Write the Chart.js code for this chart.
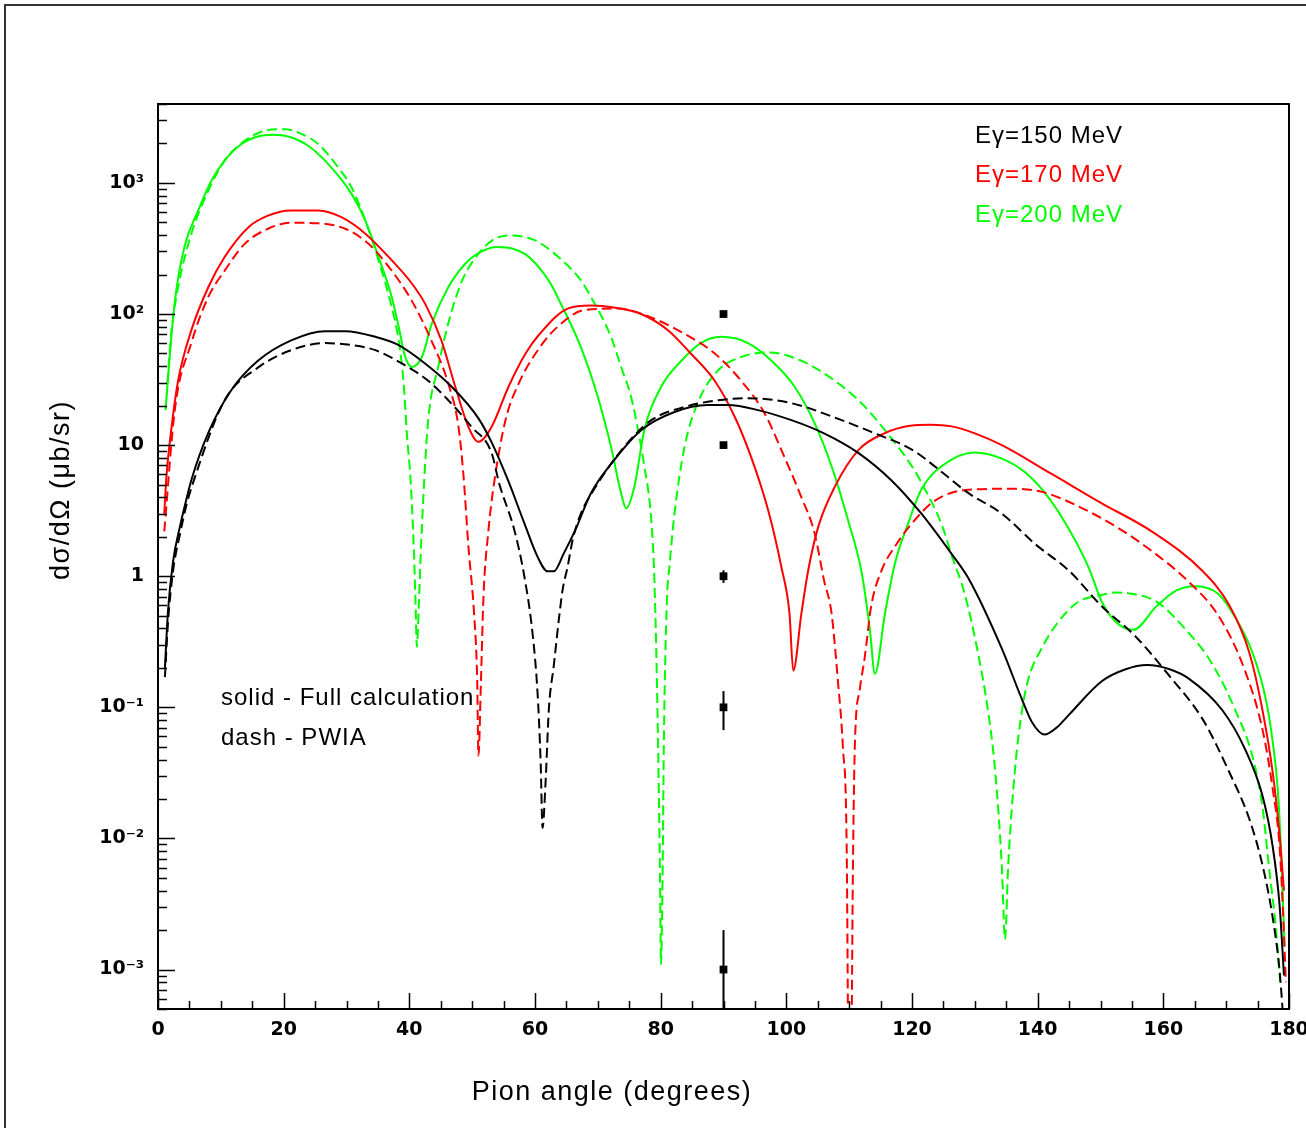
<!DOCTYPE html>
<html>
<head>
<meta charset="utf-8">
<script src="https://cdn.jsdelivr.net/npm/chart.js@4.4.1/dist/chart.umd.min.js"></script>
<style>
  html, body { margin: 0; padding: 0; background: #fff; overflow: hidden; }
  #wrap { position: relative; width: 1306px; height: 1128px; }
  #frame { position: absolute; left: 4px; top: 4px; width: 1400px; height: 1200px;
           border-left: 2px solid #333; border-top: 2px solid #333; }
  canvas { position: absolute; left: 0; top: 0; }
</style>
</head>
<body>
<div id="wrap">
  <div id="frame"></div>
  <canvas id="myChart" width="1306" height="1128"></canvas>
</div>
<script>
// E = 150 MeV, full calculation (black solid)
const black150FullAngle = [1.1, 1.6, 2.4, 3.5, 4.6, 5.3, 8.0, 11.6, 15.9, 21.2, 26.6, 29.8, 34.6, 38.3, 42.5, 46.7, 51.0, 53.1, 55.7, 58.3, 60.4, 62.0, 63.0, 64.6, 66.5, 68.9, 72.6, 76.9, 82.1, 87.5, 90.7, 95.5, 100.8, 106, 111.5, 116.7, 121.5, 126.3, 129, 134.3, 137.5, 139.1, 141.1, 143, 145, 150.2, 154, 157.4, 161, 164.1, 169.4, 173, 175.8, 177.4, 178.5, 179.2];
const black150FullValue = [0.2, 0.55, 1.3, 2.4, 4.0, 5.4, 12.4, 26, 44, 63, 74, 74, 67, 58, 42, 28, 16, 10.5, 5.4, 2.54, 1.41, 1.09, 1.09, 1.5, 2.3, 4.3, 7.7, 13, 17.8, 20.2, 20.2, 18.5, 15.5, 12.3, 8.7, 5.4, 3.0, 1.48, 0.96, 0.28, 0.115, 0.077, 0.062, 0.07, 0.088, 0.158, 0.195, 0.21, 0.195, 0.165, 0.095, 0.048, 0.021, 0.0087, 0.0031, 0.0009];

// E = 150 MeV, PWIA (black dashed)
const black150PwiaAngle = [1.1, 1.6, 2.4, 3.5, 4.6, 5.6, 10.6, 15.9, 21.2, 26.6, 30.8, 34.6, 38.8, 43.0, 46.2, 49.9, 53.1, 54.3, 56.7, 58.3, 59.6, 60.4, 60.9, 61.2, 61.7, 62.2, 63.0, 63.8, 64.4, 65.2, 66.0, 67.3, 69.4, 74.2, 78.5, 83.7, 89.2, 93.9, 100.8, 108.8, 115.6, 118.3, 121, 123.6, 129, 134.3, 139.6, 145, 150.2, 155.5, 160.9, 166.2, 170.5, 173.7, 175.8, 177.4, 178.5, 179.3];
const black150PwiaValue = [0.17, 0.45, 1.1, 2.1, 3.6, 5.2, 22, 39, 53, 60, 58, 53, 42, 31, 22, 13.8, 8.7, 5.1, 2.26, 1.0, 0.37, 0.13, 0.038, 0.012, 0.028, 0.096, 0.21, 0.47, 0.79, 1.19, 1.9, 3.0, 4.6, 9.7, 15.5, 19.5, 22, 22.8, 20.9, 15.5, 11.5, 10.2, 8.6, 6.9, 4.3, 3.0, 1.76, 1.1, 0.59, 0.35, 0.175, 0.082, 0.032, 0.014, 0.0062, 0.0025, 0.00098, 0.0003];

// E = 170 MeV, full calculation (red solid)
const red170FullAngle = [1.0, 1.3, 2.1, 3.2, 5.3, 8.0, 10.6, 14.4, 17.5, 21.2, 25.5, 29.2, 33.0, 37.2, 40.4, 42.5, 45.1, 47.3, 49.4, 51.0, 53.1, 55.8, 58.5, 60.8, 65.2, 68.9, 72.6, 76.9, 81.2, 84.8, 88.6, 91.8, 94.4, 97.1, 99.2, 100.5, 101.1, 102.4, 103.5, 105.1, 107.7, 111.5, 115.6, 119.4, 123, 126.3, 130, 134.3, 142.3, 150.2, 158.2, 166.2, 170.5, 173.7, 175.8, 177.4, 178.5, 179.2];
const red170FullValue = [3.0, 5.4, 13, 31, 75, 160, 272, 460, 563, 617, 617, 548, 410, 257, 171, 120, 63, 28, 13.8, 10.6, 13.8, 28, 50, 71, 110, 116, 112, 100, 75, 50, 31, 16.4, 8.1, 3.2, 1.18, 0.52, 0.19, 0.52, 1.12, 2.4, 4.8, 9.2, 12.3, 14.0, 14.3, 13.9, 12.3, 10, 6.0, 3.6, 2.19, 1.1, 0.6, 0.26, 0.094, 0.032, 0.0106, 0.004];

// E = 170 MeV, PWIA (red dashed)
const red170PwiaAngle = [1.0, 2.7, 5.3, 8.0, 10.6, 13.8, 17.5, 21.2, 25.5, 29.8, 33.5, 37.2, 40.4, 43.5, 46.2, 47.8, 48.6, 49.4, 50.3, 50.8, 51.0, 51.4, 51.8, 52.6, 53.4, 55.3, 57.4, 60.8, 63.6, 67.8, 73.2, 78.5, 83.7, 88.6, 92.8, 96.5, 99.7, 102.4, 104.5, 106, 107.2, 108.2, 109, 109.6, 110.1, 110.6, 110.9, 111.7, 112.5, 113.5, 115.2, 117.3, 119.9, 123.6, 129, 135.9, 140.7, 146, 152.9, 158.2, 163.6, 169, 173, 175.8, 177.4, 178.5, 179.0, 179.5];
const red170PwiaValue = [2.2, 19, 60, 135, 214, 343, 447, 497, 492, 447, 343, 214, 126, 63, 29.5, 14, 6, 1.69, 0.52, 0.16, 0.043, 0.16, 0.7, 2.26, 4.8, 15.5, 29.5, 56, 80, 107, 110, 94, 71, 50, 31, 17.6, 8.1, 4.0, 2.13, 0.93, 0.52, 0.16, 0.05, 0.0088, 0.00001, 0.006, 0.05, 0.138, 0.245, 0.59, 1.12, 1.69, 2.5, 3.76, 4.57, 4.65, 4.4, 3.5, 2.32, 1.55, 0.95, 0.48, 0.19, 0.067, 0.024, 0.0087, 0.0031, 0.0008];

// E = 200 MeV, full calculation (green solid)
const green200FullAngle = [1.2, 1.9, 2.7, 4.2, 6.4, 8.5, 10.6, 13.3, 15.9, 18.3, 20.7, 23.9, 27.6, 30.8, 33.0, 35.1, 37.2, 38.3, 39.3, 40.4, 42.0, 43.6, 46.2, 48.9, 51.5, 54, 56.5, 58.5, 60.7, 62.5, 64.1, 67.3, 70.0, 72.1, 73.7, 74.5, 75.8, 77.4, 80.1, 83.3, 86.4, 89.6, 93.9, 98.1, 101.3, 104.5, 107.2, 109.8, 112, 113.3, 114.1, 115.7, 117.3, 119.4, 121.5, 124.7, 130, 134.3, 138, 141.7, 144.9, 148.1, 150.2, 152.4, 155.2, 158.9, 162.1, 165.1, 168.8, 171.5, 174.2, 176.3, 177.4, 178.2, 178.7, 179.0, 179.3];
const green200FullValue = [18.5, 50, 127, 324, 617, 1040, 1480, 1980, 2260, 2330, 2260, 1920, 1310, 825, 516, 272, 135, 80, 48, 39.5, 47, 85, 160, 242, 300, 325, 315, 285, 225, 170, 120, 56, 23.3, 9.7, 4.3, 3.3, 4.8, 13, 28, 44, 60, 67, 60, 42, 28, 14.7, 6.9, 2.7, 1.06, 0.39, 0.18, 0.52, 1.26, 2.54, 4.6, 6.9, 8.8, 7.9, 6.2, 4.0, 2.32, 1.17, 0.64, 0.45, 0.39, 0.59, 0.78, 0.84, 0.73, 0.48, 0.26, 0.116, 0.055, 0.024, 0.0087, 0.0036, 0.0015];

// E = 200 MeV, PWIA (green dashed)
const green200PwiaAngle = [1.5, 2.1, 3.2, 5.3, 8.0, 10.6, 13.8, 17.0, 20.2, 22.9, 25.5, 28.7, 30.8, 33.0, 35.1, 37.2, 38.3, 39.1, 39.6, 40.2, 40.7, 41.0, 41.2, 41.5, 41.8, 42.2, 43.0, 44.6, 46.2, 48.4, 51.0, 53.6, 56.3, 59.0, 60.6, 64.0, 67.3, 68.9, 72.1, 73.7, 75.3, 76.3, 77.4, 78.5, 79.0, 79.5, 79.9, 80.05, 80.3, 80.5, 81.0, 81.4, 82.2, 83.8, 85.9, 89.1, 92.8, 97.1, 102.4, 107.7, 112, 115.7, 118.3, 120.5, 122.5, 124.7, 126.3, 128.4, 130.5, 132.1, 133.2, 134.3, 134.8, 135.3, 136.4, 137.5, 138.5, 140.6, 143.3, 146.5, 150.2, 152.3, 154.5, 158.9, 163.6, 167.8, 171.5, 174.2, 175.8, 176.8, 177.9, 178.6];
const green200PwiaValue = [30, 71, 160, 408, 870, 1480, 2100, 2500, 2570, 2360, 1980, 1310, 926, 516, 257, 113, 63, 29.5, 12.3, 5.4, 1.69, 0.59, 0.29, 0.59, 1.42, 3.8, 15.5, 39.5, 85, 180, 288, 375, 398, 380, 353, 265, 181, 135, 67, 39.5, 23.3, 13.8, 6.9, 2.7, 0.94, 0.09, 0.0049, 0.0011, 0.0049, 0.051, 0.66, 1.19, 3.0, 9.7, 21, 37, 47, 51, 44, 31, 20.8, 13, 9.0, 6.3, 4.2, 2.5, 1.45, 0.73, 0.26, 0.094, 0.034, 0.0061, 0.0017, 0.0061, 0.034, 0.094, 0.163, 0.28, 0.45, 0.64, 0.72, 0.75, 0.74, 0.64, 0.39, 0.214, 0.094, 0.042, 0.017, 0.0061, 0.0021, 0.0008];

// points with error bars at 90 degrees
const pointAngle = [90, 90, 90, 90, 90];
const pointValue = [100, 10, 1, 0.1, 0.001];
const pointError = [1, 0.3, 0.11, 0.033, 0.001];

const xTicks = [0, 20, 40, 60, 80, 100, 120, 140, 160, 180];
const yTicks = [1e-3, 1e-2, 1e-1, 1, 10, 100, 1000];
const yTickLabels = ['10⁻³', '10⁻²', '10⁻¹', '1', '10', '10²', '10³'];

const energyLabels = ['Eγ=150 MeV', 'Eγ=170 MeV', 'Eγ=200 MeV'];
const energyColors = ['#000000', '#ff0000', '#00ff00'];

function curve(angles, values, color, dashed) {
  return {
    data: angles.map((a, i) => ({ x: a, y: values[i] })),
    borderColor: color,
    borderWidth: 2,
    borderDash: dashed ? [10, 5] : [],
    pointRadius: 0,
    fill: false,
    cubicInterpolationMode: 'monotone'
  };
}

const datasets = [
  curve(black150FullAngle, black150FullValue, energyColors[0], false),
  curve(black150PwiaAngle, black150PwiaValue, energyColors[0], true),
  curve(red170FullAngle, red170FullValue, energyColors[1], false),
  curve(red170PwiaAngle, red170PwiaValue, energyColors[1], true),
  curve(green200FullAngle, green200FullValue, energyColors[2], false),
  curve(green200PwiaAngle, green200PwiaValue, energyColors[2], true),
  {
    type: 'scatter',
    data: pointAngle.map((a, i) => ({ x: a, y: pointValue[i] })),
    showLine: false,
    pointStyle: 'rect',
    pointRadius: 5.5,
    backgroundColor: '#000',
    borderColor: '#000',
    borderWidth: 0
  }
];

const textFont = '"Liberation Sans", Arial, sans-serif';

// inward ticks, frame, error bars and the text labels
const decor = {
  id: 'decor',
  afterDatasetsDraw(chart) {
    const { ctx, chartArea: area, scales: { x, y } } = chart;
    ctx.save();
    ctx.strokeStyle = '#000';
    ctx.lineWidth = 2;
    pointValue.forEach((v, i) => {
      const px = x.getPixelForValue(pointAngle[i]);
      const lo = v - pointError[i];
      const top = y.getPixelForValue(v + pointError[i]);
      const bot = lo > 0 ? y.getPixelForValue(lo) : area.bottom;
      ctx.beginPath();
      ctx.moveTo(px, top);
      ctx.lineTo(px, Math.min(bot, area.bottom));
      ctx.stroke();
    });
    ctx.restore();
  },
  afterDraw(chart) {
    const { ctx, chartArea: area, scales: { x, y } } = chart;
    ctx.save();
    ctx.strokeStyle = '#000';
    ctx.lineWidth = 1.5;
    ctx.beginPath();
    for (let v = 0; v <= 180; v += 5) {
      const px = Math.round(x.getPixelForValue(v)) + 0.5;
      const len = v % 20 === 0 ? 16 : 8;
      ctx.moveTo(px, area.bottom);
      ctx.lineTo(px, area.bottom - len);
    }
    for (let e = -4; e <= 3; e++) {
      for (let m = 1; m <= 9; m++) {
        const v = m * Math.pow(10, e);
        if (v < y.min || v > y.max) continue;
        const py = Math.round(y.getPixelForValue(v)) + 0.5;
        ctx.moveTo(area.left, py);
        ctx.lineTo(area.left + (m === 1 ? 17 : 9), py);
      }
    }
    ctx.stroke();

    ctx.lineWidth = 2;
    ctx.strokeRect(area.left, area.top, area.right - area.left, area.bottom - area.top);

    ctx.fillStyle = '#000';
    ctx.textBaseline = 'middle';
    ctx.letterSpacing = '1px';
    ctx.font = '24px ' + textFont;
    ctx.textAlign = 'left';
    energyLabels.forEach((t, i) => {
      ctx.fillStyle = energyColors[i];
      ctx.fillText(t, 975, 136 + i * 39.5);
    });
    ctx.fillStyle = '#000';
    ctx.fillText('solid - Full calculation', 221, 698);
    ctx.fillText('dash - PWIA', 221, 738);

    ctx.letterSpacing = '1.5px';
    ctx.font = '27px ' + textFont;
    ctx.textAlign = 'center';
    ctx.fillText('Pion angle (degrees)', 612, 1093);
    ctx.translate(62, 490);
    ctx.rotate(-Math.PI / 2);
    ctx.fillText('dσ/dΩ (μb/sr)', 0, 0);
    ctx.restore();
  }
};

const tickFont = { family: 'DejaVu Sans', weight: 'bold', size: 19 };

new Chart(document.getElementById('myChart'), {
  type: 'line',
  data: { datasets },
  options: {
    responsive: false,
    animation: false,
    devicePixelRatio: 1,
    layout: { padding: { left: 0, right: 17, top: 104, bottom: 0 } },
    plugins: { legend: { display: false }, tooltip: { enabled: false } },
    scales: {
      x: {
        type: 'linear',
        min: 0,
        max: 180,
        grid: { display: false, drawTicks: false },
        border: { display: false },
        afterBuildTicks: s => { s.ticks = xTicks.map(v => ({ value: v })); },
        afterFit: s => { s.height = 119; s.paddingLeft = 0; s.paddingRight = 0; },
        ticks: { font: tickFont, color: '#000', padding: 10, maxRotation: 0, autoSkip: false, callback: v => String(v) }
      },
      y: {
        type: 'logarithmic',
        min: 5e-4,
        max: 4e3,
        grid: { display: false, drawTicks: false },
        border: { display: false },
        afterBuildTicks: s => { s.ticks = yTicks.map(v => ({ value: v })); },
        afterFit: s => { s.width = 158; s.paddingTop = 0; s.paddingBottom = 0; },
        ticks: { font: tickFont, color: '#000', padding: 14, autoSkip: false, callback: (v, i) => yTickLabels[i] }
      }
    }
  },
  plugins: [decor]
});
</script>
</body>
</html>
